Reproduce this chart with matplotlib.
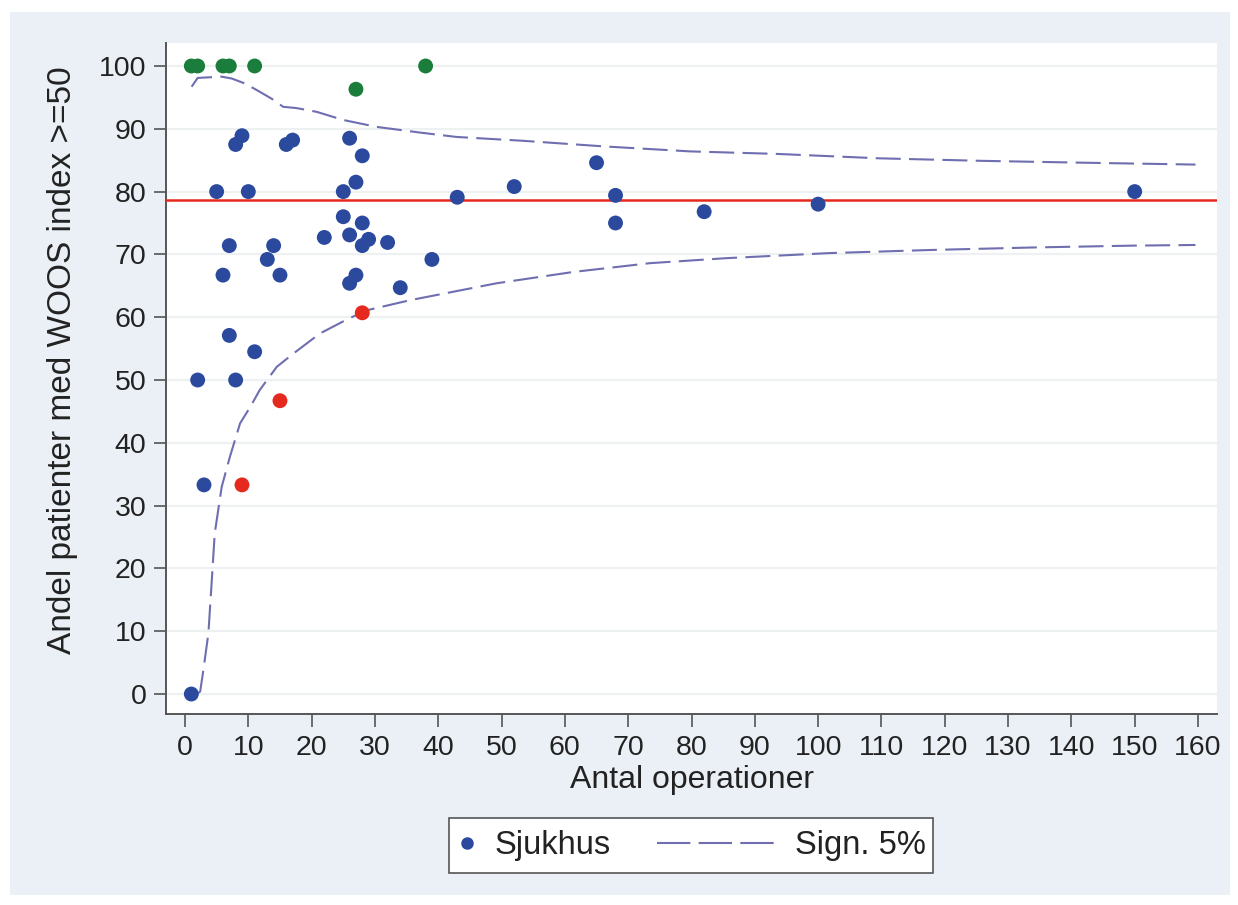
import matplotlib
matplotlib.use("Agg")
import matplotlib.pyplot as plt
from matplotlib.lines import Line2D
from matplotlib.patches import Rectangle

# ---- data ----
blue_x = [1, 2, 3, 5, 6, 7, 7, 8, 8, 9, 10, 11, 13, 14, 15, 16, 17, 22, 25, 25,
          26, 26, 26, 27, 27, 28, 28, 28, 29, 32, 34, 39, 43, 52, 65, 68, 68, 82, 100, 150]
blue_y = [0, 50, 33.3, 80, 66.7, 71.4, 57.1, 87.5, 50, 88.9, 80, 54.5, 69.2, 71.4, 66.7, 87.5, 88.2, 72.7, 80, 76,
          88.5, 73.1, 65.4, 81.5, 66.7, 85.7, 75, 71.4, 72.4, 71.9, 64.7, 69.2, 79.1, 80.8, 84.6, 79.4, 75, 76.8, 78, 80]

green_x = [1, 2, 6, 7, 11, 38, 27]
green_y = [100, 100, 100, 100, 100, 100, 96.3]

red_x = [9, 15, 28]
red_y = [33.3, 46.7, 60.7]

mean_rate = 78.7

upper_x = [1.05, 2, 5.8, 7.4, 9.5, 11.8, 14, 15.5, 17.6, 20.8, 25, 30.3, 37.1, 42.9, 53.2, 66.1, 79.8,
           93.5, 109.6, 125.7, 141.9, 159.6]
upper_y = [96.7, 98.1, 98.3, 98.0, 97.2, 95.9, 94.6, 93.5, 93.3, 92.7, 91.4, 90.3, 89.4, 88.7, 88.1, 87.2, 86.4,
           86.0, 85.3, 84.9, 84.6, 84.3]

lower_x = [1.9, 2.4, 2.9, 3.7, 4.2, 4.7, 5.8, 7.1, 8.7, 10.3, 11.8, 14.5, 17.1, 21.3, 25.5, 28.7, 35.5,
           49.2, 61.3, 73.4, 85.5, 101.6, 117.7, 133.8, 149.9, 159.6]
lower_y = [0.0, 0.4, 3.8, 9.7, 17.6, 25.6, 33.0, 37.8, 43.1, 45.7, 48.4, 52.1, 54.2, 57.4, 59.6, 61.1, 62.7,
           65.4, 67.2, 68.6, 69.4, 70.2, 70.7, 71.1, 71.4, 71.5]

x_ticks = list(range(0, 161, 10))
y_ticks = list(range(0, 101, 10))
legend_labels = ['Sjukhus', 'Sign. 5%']

# ---- styling ----
plt.rcParams['font.family'] = ['Liberation Sans', 'DejaVu Sans']
BLUE = '#2b4a9e'
GREEN = '#1b7d3c'
RED = '#e5291f'
DASH = '#6e6eb0'
PANEL = '#eaf0f6'
TXT = '#222222'
W, H = 1238, 905

fig = plt.figure(figsize=(W / 100, H / 100), dpi=100)
fig.patch.set_facecolor('white')
fig.patches.append(Rectangle((10 / W, 1 - 895 / H), 1220 / W, 883 / H,
                             transform=fig.transFigure, facecolor=PANEL, edgecolor='none', zorder=-5))

ax = fig.add_axes([166 / W, 1 - 714 / H, (1217 - 166) / W, (714 - 43) / H])
ax.set_facecolor('white')
ax.set_xlim(-3.0, 163.0)
ax.set_ylim(-3.18, 103.66)

for y in y_ticks:
    ax.axhline(y, color='#edf1f1', lw=1.6, zorder=0)

ax.plot(upper_x, upper_y, color=DASH, lw=1.5, dashes=(12, 4), zorder=2)
ax.plot(lower_x, lower_y, color=DASH, lw=1.5, dashes=(12, 4), zorder=2)
ax.axhline(mean_rate, color=RED, lw=1.8, zorder=3)

ms = 115
ax.scatter(blue_x, blue_y, s=ms, color=BLUE, edgecolors='none', zorder=4)
ax.scatter(green_x, green_y, s=ms, color=GREEN, edgecolors='none', zorder=4)
ax.scatter(red_x, red_y, s=ms, color=RED, edgecolors='none', zorder=4)

ax.set_xticks(x_ticks)
ax.set_yticks(y_ticks)
ax.set_yticklabels([str(v) for v in y_ticks])
ax.tick_params(axis='both', direction='out', length=9, width=1.2, color='#555555',
               labelsize=20.5, labelcolor=TXT)
ax.tick_params(axis='x', pad=6)
ax.tick_params(axis='y', pad=5)
for side in ('top', 'right'):
    ax.spines[side].set_visible(False)
for side in ('left', 'bottom'):
    ax.spines[side].set_color('#555555')
    ax.spines[side].set_linewidth(1.4)

ax.set_xlabel('Antal operationer', fontsize=23, color=TXT)
ax.set_ylabel('Andel patienter med WOOS index >=50', fontsize=24, color=TXT)
ax.xaxis.set_label_coords(0.5, -0.076)
ax.yaxis.set_label_coords(-0.084, 0.527)

# ---- legend: framed box with two entries ----
ly = 1 - 845.5 / H
fig.patches.append(Rectangle((449 / W, 1 - 873 / H), (933 - 449) / W, (873 - 818) / H,
                             transform=fig.transFigure, facecolor='white', edgecolor='#555555',
                             lw=1.2, zorder=1))
h1 = Line2D([], [], marker='o', ls='none', color=BLUE, markersize=8)
h2 = Line2D([], [], color=DASH, lw=1.5, dashes=(16, 4))
leg1 = fig.legend([h1], legend_labels[:1], loc='center left', bbox_to_anchor=(453.5 / W, ly),
                  fontsize=23.5, frameon=False, handlelength=0.85, handletextpad=0.42,
                  borderpad=0, borderaxespad=0)
leg2 = fig.legend([h2], legend_labels[1:], loc='center left', bbox_to_anchor=(657 / W, ly),
                  fontsize=23.5, frameon=False, handlelength=3.6, handletextpad=0.62,
                  borderpad=0, borderaxespad=0)
for lg in (leg1, leg2):
    lg.set_zorder(2)
    for t in lg.get_texts():
        t.set_color(TXT)

fig.savefig('out.png', dpi=100)
